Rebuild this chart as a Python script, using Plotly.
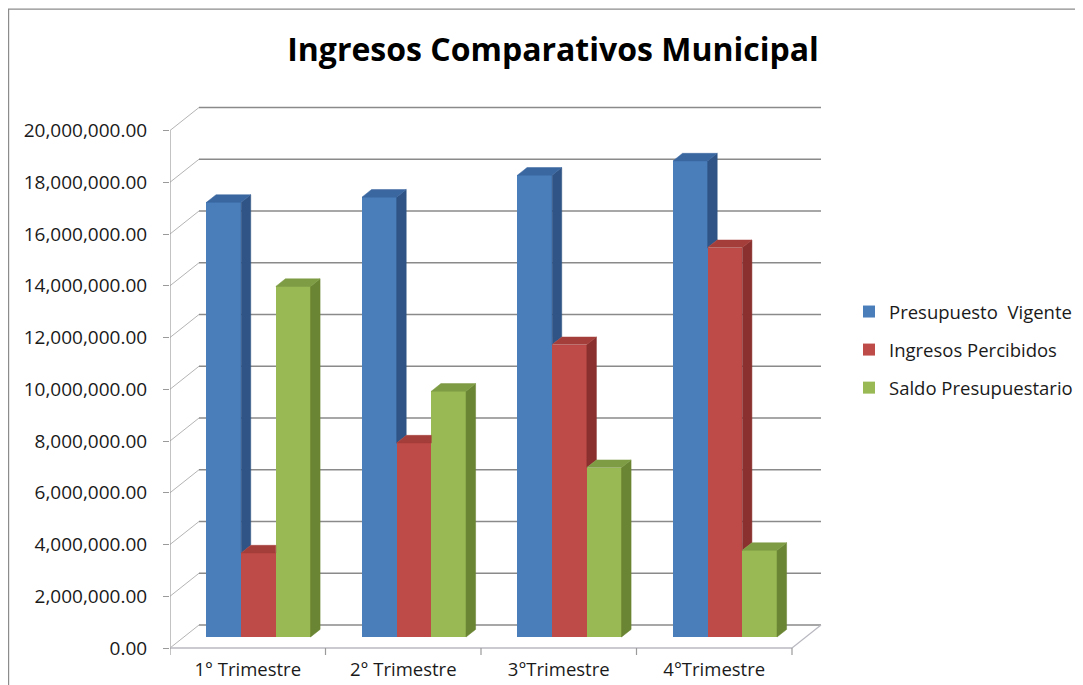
import plotly.graph_objects as go

# ---------------- data ----------------
categories = ["1° Trimestre", "2° Trimestre", "3°Trimestre", "4°Trimestre"]
series_names = ["Presupuesto\u00a0 Vigente", "Ingresos Percibidos", "Saldo Presupuestario"]
presupuesto_vigente = [16_800_000, 17_000_000, 17_850_000, 18_400_000]
ingresos_percibidos = [3_250_000, 7_500_000, 11_300_000, 15_050_000]
saldo_presupuestario = [13_550_000, 9_500_000, 6_550_000, 3_350_000]
y_tick_values = [0, 2_000_000, 4_000_000, 6_000_000, 8_000_000, 10_000_000,
                 12_000_000, 14_000_000, 16_000_000, 18_000_000, 20_000_000]

# ---------------- styling / geometry ----------------
W, H = 1083, 685
OFF = 8                 # page offset of the figure inside the browser window
PLOT_L, PLOT_R, PLOT_T, PLOT_B = 170 - OFF, 826 - OFF, 100 - OFF, 656 - OFF
PX_X = 155.5            # px per category
PX_Y = 25.875e-6        # px per unit of value
Y0_PX = 648 - OFF       # pixel row of value 0 (front plane)
x_range = [0, (PLOT_R - PLOT_L) / PX_X]
y_range = [-(PLOT_B - Y0_PX) / PX_Y, (Y0_PX - PLOT_T) / PX_Y]

DX = 29 / PX_X          # depth offset of back wall (x, data units)
DY = 23 / PX_Y          # depth offset of back wall (y, data units)
Z0 = 0.478              # depth of bar front faces
DZ = 0.33               # bar depth
BW = 0.223              # bar width (category units)
CENTER = 0.48

front_colors = ["#4A7EBB", "#BE4B48", "#98B954"]
top_colors = ["#3B67A0", "#A43E3B", "#7E9C44"]
side_colors = ["#2F5485", "#8A302E", "#6A8533"]
FONT = "Open Sans"

values = [presupuesto_vigente, ingresos_percibidos, saldo_presupuestario]

fig = go.Figure()

base = Z0 * DY
ddx, ddy = DZ * DX, DZ * DY

# front faces (real bars)
for k, (name, vals) in enumerate(zip(series_names, values)):
    xs = [i + CENTER + (k - 1) * BW + Z0 * DX for i in range(len(categories))]
    fig.add_trace(go.Bar(
        x=xs, y=vals, base=[base] * len(vals), width=BW,
        name=name, legendgroup=f"g{k}",
        marker=dict(color=front_colors[k], line=dict(width=0)),
        hovertemplate="%{y:,.2f}<extra>" + name + "</extra>",
    ))

# side & top faces (pseudo 3D), derived from data
for i in range(len(categories)):
    for k in range(3):
        v = values[k][i]
        L = i + CENTER + (k - 1.5) * BW + Z0 * DX
        R = L + BW
        T = v + base
        Tn = values[k + 1][i] + base if k < 2 else base
        if Tn < T:
            sb = max(Tn, base)
            fig.add_trace(go.Scatter(
                x=[R, R, R + ddx, R + ddx, R], y=[sb, T, T + ddy, sb + ddy, sb],
                mode="lines", fill="toself", fillcolor=side_colors[k],
                line=dict(color=side_colors[k], width=0.5),
                hoverinfo="skip", showlegend=False))
        if k < 2 and Tn >= T + ddy:
            tx = [L, R, R, L + ddx, L]
        else:
            tx = [L, R, R + ddx, L + ddx, L]
        ty = [T, T, T + ddy, T + ddy, T]
        fig.add_trace(go.Scatter(
            x=tx, y=ty, mode="lines", fill="toself", fillcolor=top_colors[k],
            line=dict(color=top_colors[k], width=0.5),
            hoverinfo="skip", showlegend=False))

# walls, gridlines, floor
shapes = []
GRID = "#8a8a8a"
DIAG = "#b4b4b4"
for v in y_tick_values:
    shapes.append(dict(type="line", xref="x", yref="y", layer="below",
                       x0=DX, x1=len(categories) + DX, y0=v + DY, y1=v + DY,
                       line=dict(color=GRID, width=1.4)))
    shapes.append(dict(type="line", xref="x", yref="y", layer="below",
                       x0=0, x1=DX, y0=v, y1=v + DY,
                       line=dict(color=DIAG, width=1)))
shapes.append(dict(type="line", xref="x", yref="y", layer="below",
                   x0=0, x1=0, y0=0, y1=y_tick_values[-1],
                   line=dict(color="#9a9a9a", width=1.2)))
shapes.append(dict(type="line", xref="x", yref="y", layer="below",
                   x0=0, x1=len(categories), y0=0, y1=0,
                   line=dict(color="#b8b8c0", width=1.4)))
shapes.append(dict(type="line", xref="x", yref="y", layer="below",
                   x0=len(categories), x1=len(categories) + DX, y0=0, y1=DY,
                   line=dict(color="#b8b8c0", width=1.2)))
for i in range(len(categories) + 1):
    shapes.append(dict(type="line", xref="x", yref="y", layer="below",
                       x0=i, x1=i, y0=0, y1=-7 / PX_Y,
                       line=dict(color="#9a9a9a", width=1.2)))
pw, ph = PLOT_R - PLOT_L, PLOT_B - PLOT_T
shapes.append(dict(type="rect", xref="paper", yref="paper", layer="above",
                   x0=(0.6 - PLOT_L) / pw, x1=(W + 20 - PLOT_L) / pw,
                   y0=(PLOT_B - (H + 20)) / ph, y1=(PLOT_B - 1.2) / ph,
                   line=dict(color="#8c8c8c", width=1.2), fillcolor="rgba(0,0,0,0)"))

fig.update_layout(
    width=W, height=H,
    margin=dict(l=PLOT_L, r=W - PLOT_R, t=PLOT_T, b=H - PLOT_B, autoexpand=False),
    paper_bgcolor="white", plot_bgcolor="white",
    barmode="overlay", bargap=0,
    font=dict(family=FONT, color="#1a1a1a", size=18),
    title=dict(text="Ingresos Comparativos Municipal",
               font=dict(family=FONT, size=32, color="#000000", weight="bold"),
               x=(553 - OFF) / W, xanchor="center", y=1 - (50 - OFF) / H,
               yanchor="middle", automargin=False),
    xaxis=dict(range=x_range, tickvals=[i + 0.5 for i in range(len(categories))],
               ticktext=categories, ticks="", showgrid=False, zeroline=False,
               showline=False, fixedrange=True, automargin=False,
               tickfont=dict(family=FONT, size=18.5, color="#1a1a1a")),
    yaxis=dict(range=y_range, tickvals=y_tick_values, tickformat=",.2f",
               ticks="outside", ticklen=6, tickcolor="#9a9a9a", tickwidth=1.2,
               ticklabelstandoff=12, automargin=False,
               showgrid=False, zeroline=False, showline=False, fixedrange=True,
               tickfont=dict(family=FONT, size=19, color="#1a1a1a")),
    legend=dict(x=(849 - OFF - PLOT_L) / pw, xanchor="left",
                y=(PLOT_B - (350 - OFF)) / ph, yanchor="middle",
                traceorder="grouped", tracegroupgap=11,
                font=dict(family=FONT, size=18.5, color="#1a1a1a"),
                bgcolor="rgba(0,0,0,0)"),
    shapes=shapes,
    showlegend=True,
)

fig.write_html("out.html")
